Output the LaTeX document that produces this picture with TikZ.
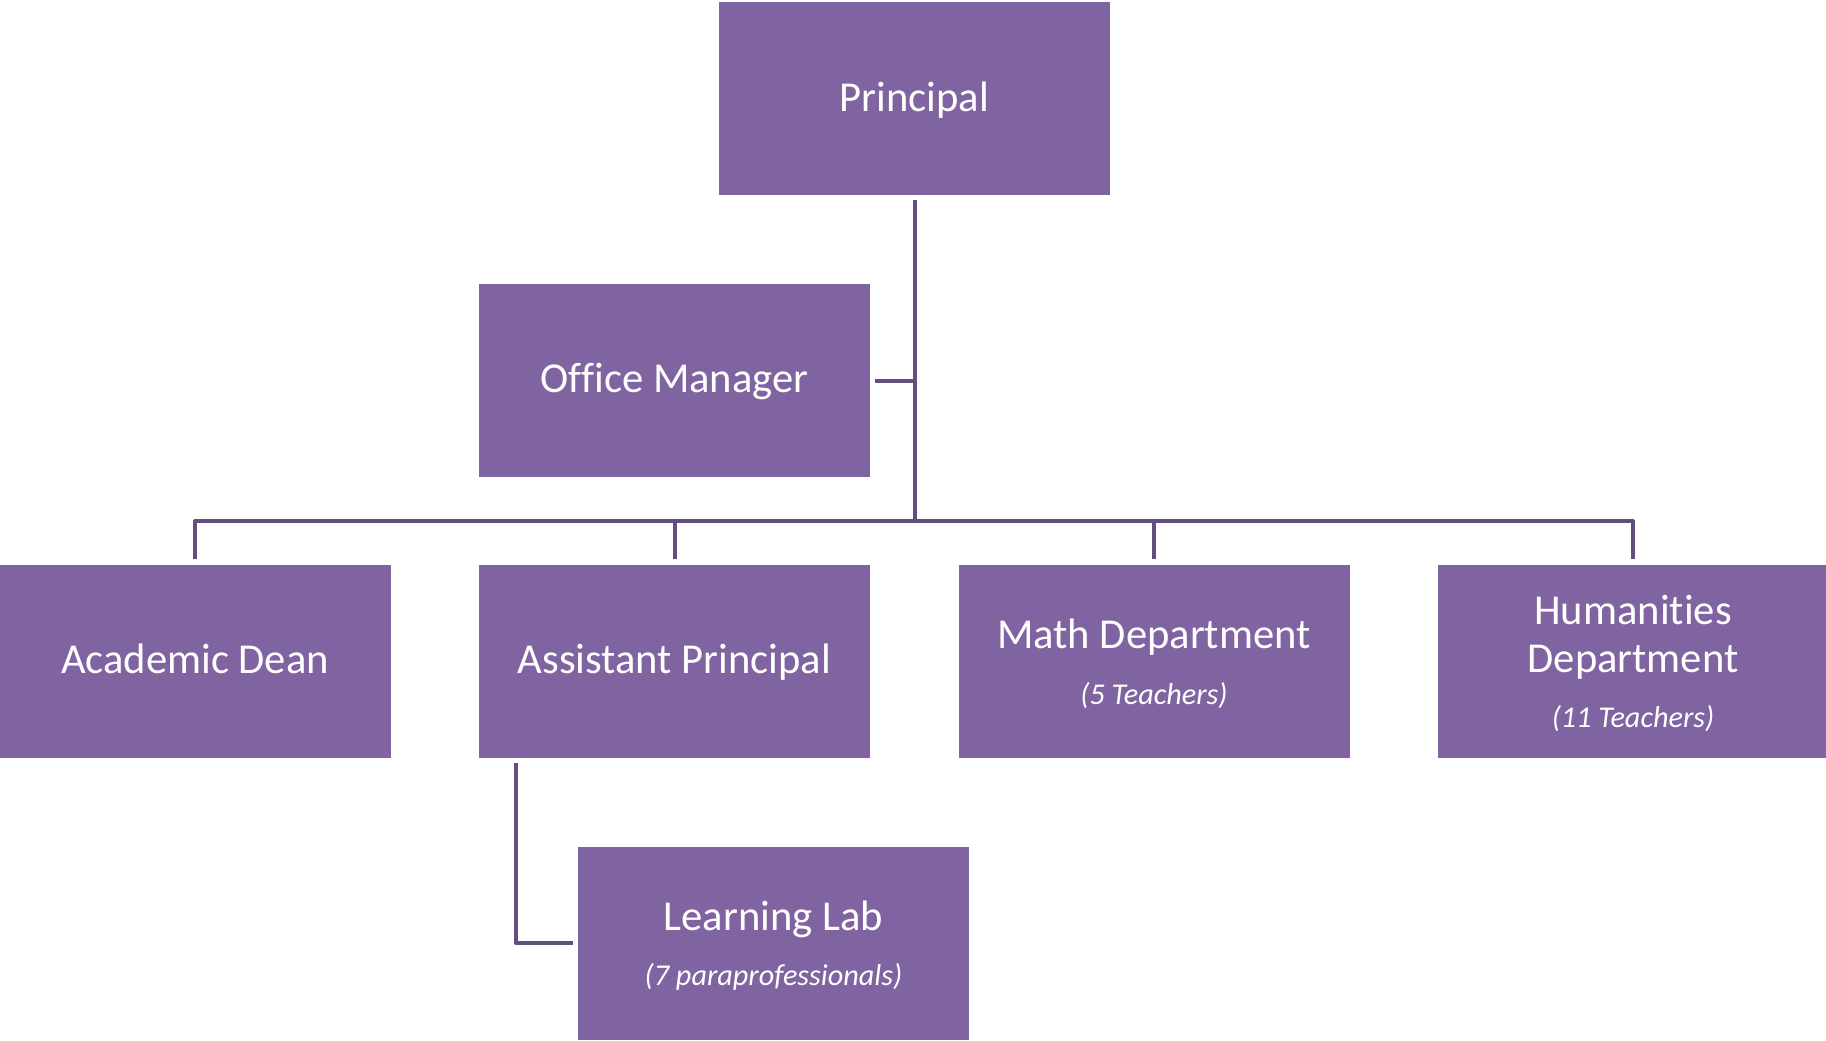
\documentclass[tikz,border=0pt]{standalone}
\usepackage{fontspec}
\setmainfont{Carlito}[Ligatures={NoCommon,NoRequired,NoContextual}]
\usetikzlibrary{calc}
\definecolor{boxfill}{HTML}{8064A2}
\definecolor{linec}{RGB}{100,78,128}
\begin{document}
\begin{tikzpicture}[x=1pt,y=-1pt,
  orgbox/.style={fill=boxfill, draw=none, minimum width=391pt, minimum height=193pt, inner sep=0pt},
  conn/.style={draw=linec, line width=4pt},
  mainlbl/.style={text=white, font=\fontsize{42.6}{51}\selectfont, anchor=base, inner sep=0pt},
  sublbl/.style={text=white, font=\fontsize{30.2}{36}\selectfont\itshape, anchor=base, inner sep=0pt}]
\useasboundingbox (0,0) rectangle (1826,1041);
% boxes
\node[orgbox] (principal) at (914.5,98.5) {};
\node[orgbox] (office) at (674.5,380.5) {};
\node[orgbox] (dean) at (195,661.5) {};
\node[orgbox] (ap) at (674.5,661.5) {};
\node[orgbox] (math) at (1154,661.5) {};
\node[orgbox] (hum) at (1633,661.5) {};
\node[orgbox] (lab) at (773.5,943) {};
% labels
\node[mainlbl] (principal-t) at ($(principal.center)+(0,13)$) {Principal};
\node[mainlbl] (office-t) at ($(office.center)+(0,12)$) {Office Manager};
\node[mainlbl] (dean-t) at ($(dean.center)+(0,12)$) {Academic Dean};
\node[mainlbl] (ap-t) at ($(ap.center)+(0,12)$) {Assistant Principal};
\node[mainlbl] (math-t) at ($(math.center)+(0,-13.5)$) {Math Department};
\node[sublbl] (math-s) at ($(math.center)+(0,42.5)$) {(5 Teachers)};
\node[mainlbl] (hum-t1) at ($(hum.center)+(0,-37.5)$) {Humanities};
\node[mainlbl] (hum-t2) at ($(hum.center)+(0,10.5)$) {Department};
\node[sublbl] (hum-s) at ($(hum.center)+(0,65.5)$) {(11 Teachers)};
\node[mainlbl] (lab-t) at ($(lab.center)+(0,-13)$) {Learning Lab};
\node[sublbl] (lab-s) at ($(lab.center)+(0,42)$) {(7 paraprofessionals)};
% connectors
\coordinate (bar) at (915,521);
\coordinate (apstart) at ($(ap.south west)+(37,5)$);
\coordinate (labend) at ($(lab.west)+(-5,0)$);
\draw[conn] ($(principal.south)+(0,5)$) -- (principal.south |- bar);
\draw[conn] ($(office.east)+(5,0)$) -- (office.east -| principal.south);
\draw[conn, line join=round] ($(dean.north)+(0,-6)$) -- (dean.north |- bar) -- (hum.north |- bar) -- ($(hum.north)+(0,-6)$);
\draw[conn] (ap.north |- bar) -- ($(ap.north)+(0,-6)$);
\draw[conn] (math.north |- bar) -- ($(math.north)+(0,-6)$);
\draw[conn, line join=round] (apstart) -- (apstart |- labend) -- (labend);
\end{tikzpicture}
\end{document}
